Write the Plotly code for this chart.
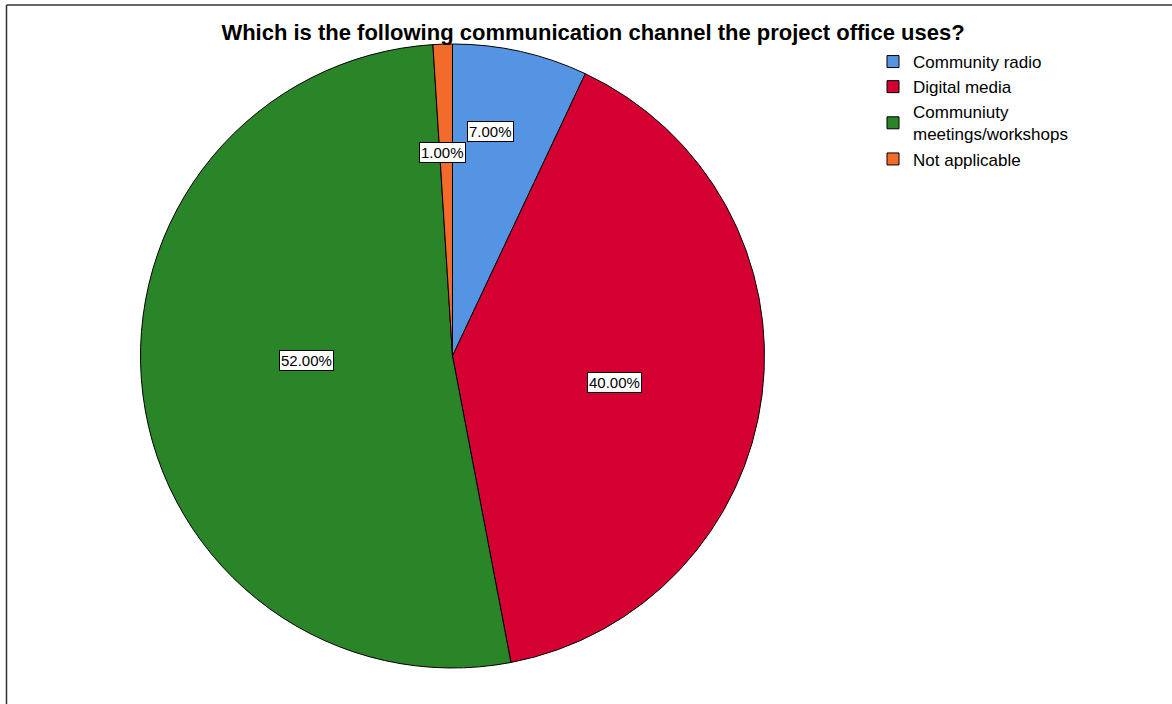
import math
import plotly.graph_objects as go

# Survey responses: communication channel used by the project office
categories = ["Community radio", "Digital media", "Communiuty<br>meetings/workshops", "Not applicable"]
percentages = [7.0, 40.0, 52.0, 1.0]
colors = ["#5494E3", "#D50032", "#2A8529", "#F26B2B"]

# Label placement: distance from centre (fraction of radius) and a small
# angular nudge (degrees) away from each slice's mid-angle
label_radius = [0.73, 0.527, 0.467, 0.653]
label_nudge = [-3.1, 2.1, 5.4, -0.9]

W, H = 1172, 704
cx, cy, R = 452.5, 356.0, 312.0  # pie centre / radius in pixels
FONT = "Liberation Sans, Arial, sans-serif"

fig = go.Figure(go.Pie(
    labels=categories,
    values=percentages,
    sort=False,
    direction="clockwise",
    rotation=0,
    textinfo="none",
    hoverinfo="label+percent",
    marker=dict(colors=colors, line=dict(color="#000000", width=1)),
    domain=dict(x=[(cx - R) / W, (cx + R) / W], y=[(H - cy - R) / H, (H - cy + R) / H]),
))

# Boxed percentage labels placed around each slice's mid-angle
total = sum(percentages)
cum = 0.0
annotations = []
for val, rf, nudge in zip(percentages, label_radius, label_nudge):
    mid = (cum + val / 2) / total * 2 * math.pi + math.radians(nudge)
    cum += val
    px = cx + rf * R * math.sin(mid)
    py = cy - rf * R * math.cos(mid)
    annotations.append(dict(
        x=px / W, y=1 - py / H, xref="paper", yref="paper",
        xanchor="center", yanchor="middle",
        text=f"{val:.2f}%", showarrow=False,
        font=dict(family=FONT, size=15, color="#000000"),
        bgcolor="#FFFFFF", bordercolor="#000000", borderwidth=1, borderpad=1,
    ))

fig.update_layout(
    width=W, height=H,
    margin=dict(l=0, r=0, t=0, b=0),
    paper_bgcolor="#FFFFFF",
    title=dict(
        text="<b>Which is the following communication channel the project office uses?</b>",
        x=593 / W, xanchor="center", y=1 - 32 / H, yanchor="middle",
        font=dict(family=FONT, size=22, color="#000000"),
    ),
    legend=dict(
        x=873 / W, xanchor="left", y=1 - 44 / H, yanchor="top",
        font=dict(family=FONT, size=17, color="#000000"),
        bgcolor="rgba(0,0,0,0)", tracegroupgap=0, itemwidth=30,
    ),
    annotations=annotations,
    shapes=[
        dict(type="line", xref="paper", yref="paper",
             x0=6.5 / W, x1=6.5 / W, y0=0, y1=1 - 5 / H,
             line=dict(color="#333333", width=1.5)),
        dict(type="line", xref="paper", yref="paper",
             x0=6.5 / W, x1=1, y0=1 - 5 / H, y1=1 - 5 / H,
             line=dict(color="#333333", width=1.5)),
    ],
)

fig.write_html("out.html")
